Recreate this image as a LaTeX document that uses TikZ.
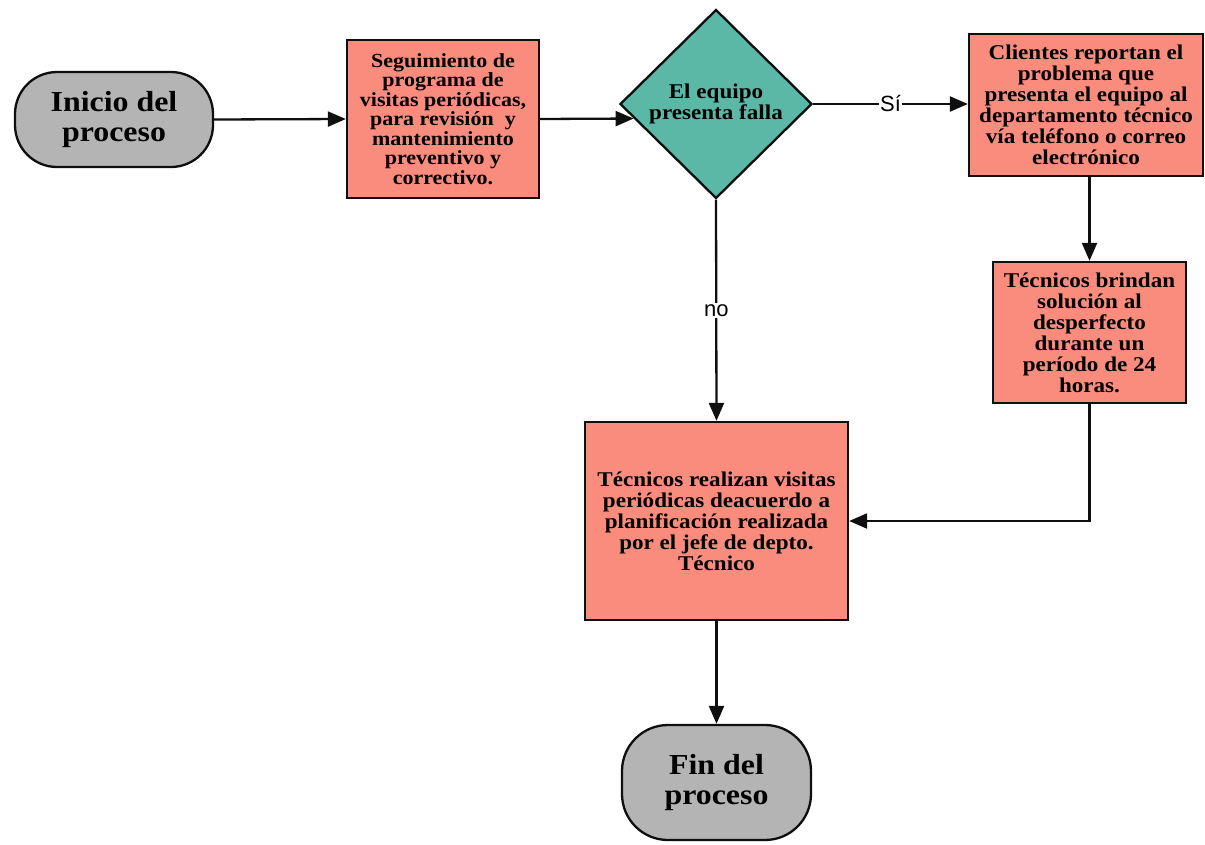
\documentclass[tikz,border=0pt]{standalone}
\usepackage{fontspec}
\setmainfont{Liberation Serif}[FakeStretch=1.1]
\newfontfamily\labelfont{Liberation Sans}
\usetikzlibrary{arrows.meta,shapes.geometric}

\definecolor{procfill}{RGB}{250,140,126}
\definecolor{decfill}{RGB}{91,184,167}
\definecolor{termfill}{RGB}{180,180,180}
\definecolor{edge}{RGB}{15,15,15}

\tikzset{
  procbox/.style={rectangle, draw=edge, line width=2.3pt, fill=procfill,
    inner sep=0pt, align=center, font=\bfseries\fontsize{21}{21}\selectfont},
  termbox/.style={rectangle, draw=edge, line width=2.3pt, fill=termfill,
    inner sep=0pt, align=center, font=\bfseries\fontsize{29}{30}\selectfont},
  decbox/.style={diamond, draw=edge, line width=2.3pt, fill=decfill,
    inner sep=0pt, align=center, font=\bfseries\fontsize{21}{21}\selectfont},
  flow/.style={draw=edge, line width=2.3pt, -{Triangle[length=18pt,width=15pt]}},
  branchlabel/.style={fill=white, inner sep=1.5pt, font=\labelfont\fontsize{22}{22}\selectfont}
}

\begin{document}
\begin{tikzpicture}[x=1pt,y=-1pt]
  \useasboundingbox (0,0) rectangle (1205,844);

  % terminals
  \node[termbox, rounded corners=42pt, minimum width=198pt, minimum height=95pt]
    (start) at (114,119.5) {Inicio del\\proceso};
  \node[termbox, rounded corners=46pt, minimum width=189pt, minimum height=115pt]
    (stop) at (716.5,782.5) {Fin del\\proceso};

  % process steps
  \node[procbox, minimum width=192pt, minimum height=158pt,
        font=\bfseries\fontsize{20}{19.5}\selectfont]
    (plan) at (443,119) {Seguimiento de\\programa de\\visitas periódicas,\\para revisión\ \ y\\mantenimiento\\preventivo y\\correctivo.};
  \node[decbox, minimum width=192pt, minimum height=189pt]
    (fault) at (716,104) {El equipo\\presenta falla};
  \node[procbox, minimum width=234pt, minimum height=142pt]
    (report) at (1086,105) {Clientes reportan el\\problema que\\presenta el equipo al\\departamento técnico\\vía teléfono o correo\\electrónico};
  \node[procbox, minimum width=193pt, minimum height=141pt]
    (repair) at (1089.5,332.5) {Técnicos brindan\\solución al\\desperfecto\\durante un\\período de 24\\horas.};
  \node[procbox, minimum width=263pt, minimum height=198pt]
    (visits) at (716.5,521) {Técnicos realizan visitas\\periódicas deacuerdo a\\planificación realizada\\por el jefe de depto.\\Técnico};

  % connectors
  \draw[flow] (start.east) -- (plan.west);
  \draw[flow] (plan.east) -- (fault.190.5);
  \draw[flow] (fault.east) -- node[branchlabel] {Sí} (report.west |- fault.east);
  \draw[flow] (repair.north |- report.south) -- (repair.north);
  \draw[flow] (fault.south) -- node[branchlabel] {no} (visits.north);
  \draw[flow] (repair.south) |- (visits.east);
  \draw[flow] (visits.south) -- (stop.north);
\end{tikzpicture}
\end{document}
